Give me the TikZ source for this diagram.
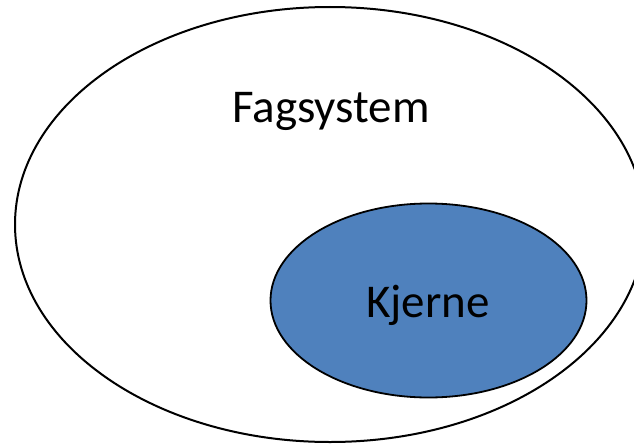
\documentclass[tikz,border=0pt]{standalone}
\usepackage{fontspec}
\setmainfont{Carlito}

\begin{document}
\begin{tikzpicture}[x=1pt,y=-1pt,
    label/.style={font=\fontsize{47}{56}\selectfont,anchor=base,inner sep=0pt},
    outer/.style={draw=black,line width=2pt},
    inner/.style={draw=black,line width=1.8pt,fill=kjerneblue}]
        \definecolor{kjerneblue}{HTML}{4F81BD}
        \useasboundingbox (0,0) rectangle (634,444);
        \begin{scope}
          \clip (0,0) rectangle (634,444);
          \draw[outer] (330,224.5) ellipse [x radius=315,y radius=217.5];
        \end{scope}
        \draw[inner] (428.5,300.5) ellipse [x radius=158,y radius=97];

        \node[label] (fag) at (331,122) {Fagsystem};
        \node[label] (kjerne) at (428,317) {Kjerne};
      \end{tikzpicture}
\end{document}
